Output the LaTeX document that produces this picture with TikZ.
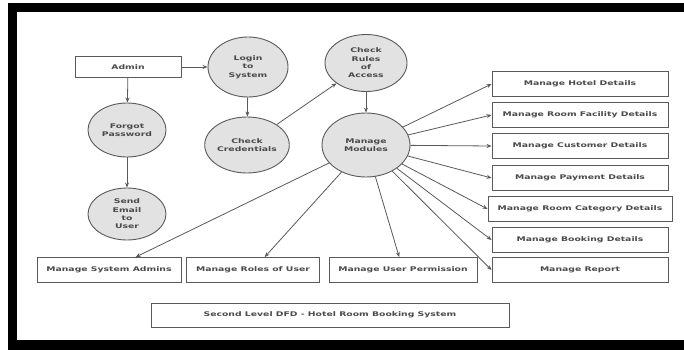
\documentclass[tikz,border=0pt]{standalone}
\usepackage{fontspec}
\setmainfont{DejaVu Sans}[FakeStretch=1.45]
\usetikzlibrary{shapes.geometric,arrows.meta}

\definecolor{linegray}{HTML}{5A5A5A}
\definecolor{procfill}{HTML}{E2E2E2}
\definecolor{textgray}{HTML}{4A4A4A}

\begin{document}
\begin{tikzpicture}[x=1pt,y=-1pt,
    proc/.style={ellipse,draw=linegray,fill=procfill,line width=0.9pt,inner sep=0pt,
        align=center,text=textgray,font=\fontsize{6.4}{8.4}\selectfont\bfseries},
    store/.style={rectangle,draw=linegray,fill=white,line width=0.9pt,inner sep=0pt,
        minimum height=25pt,text=textgray,font=\fontsize{6.4}{8.4}\selectfont\bfseries},
    flow/.style={draw=linegray,line width=0.8pt,-{Stealth[length=5pt,width=4pt]}}]
    \useasboundingbox (0,0) rectangle (684,350);
    % frame
    \fill[black] (8,3) rectangle (684,350);
    \fill[white] (17,12) rectangle (684,340);

    \node [store,minimum width=106pt,minimum height=21pt] (admin) at (128,67) {Admin};
    \node [proc,minimum width=78pt,minimum height=54pt] (forgot) at (127,130) {Forgot\\Password};
    \node [proc,minimum width=78pt,minimum height=52pt] (email) at (127,214) {Send\\Email\\to\\User};
    \node [proc,minimum width=80pt,minimum height=60pt] (login) at (248,67) {Login\\to\\System};
    \node [proc,minimum width=80pt,minimum height=56pt] (cred) at (247,145) {Check\\Credentials};
    \node [proc,minimum width=82pt,minimum height=57pt] (rules) at (366,63) {Check\\Rules\\of\\Access};
    \node [proc,minimum width=88pt,minimum height=64pt] (modules) at (366,145) {Manage\\Modules};

    \node [store,minimum width=176pt] (hotel) at (580,84) {Manage Hotel Details};
    \node [store,minimum width=176pt] (facility) at (580,115) {Manage Room Facility Details};
    \node [store,minimum width=176pt] (customer) at (580,146) {Manage Customer Details};
    \node [store,minimum width=176pt] (payment) at (580,178) {Manage Payment Details};
    \node [store,minimum width=184pt] (category) at (580,209) {Manage Room Category Details};
    \node [store,minimum width=176pt] (booking) at (580,240) {Manage Booking Details};
    \node [store,minimum width=176pt] (report) at (580,270) {Manage Report};

    \node [store,minimum width=144pt] (sysadmin) at (109,270) {Manage System Admins};
    \node [store,minimum width=133pt] (roles) at (253,270) {Manage Roles of User};
    \node [store,minimum width=148pt] (perm) at (403,270) {Manage User Permission};

    \node [store,minimum width=358pt,minimum height=24pt] (title) at (330,315) {Second Level DFD - Hotel Room Booking System};

    \draw [flow] (admin) -- (login);
    \draw [flow] (admin) -- (forgot);
    \draw [flow] (forgot) -- (email);
    \draw [flow] (login) -- (cred);
    \draw [flow] (cred) -- (rules);
    \draw [flow] (rules) -- (modules);

    \foreach \target in {hotel,facility,customer,payment,category,booking,report}
        \draw [flow] (modules) -- (\target.west);
    \foreach \target in {sysadmin,roles,perm}
        \draw [flow] (modules) -- (\target);
\end{tikzpicture}
\end{document}
